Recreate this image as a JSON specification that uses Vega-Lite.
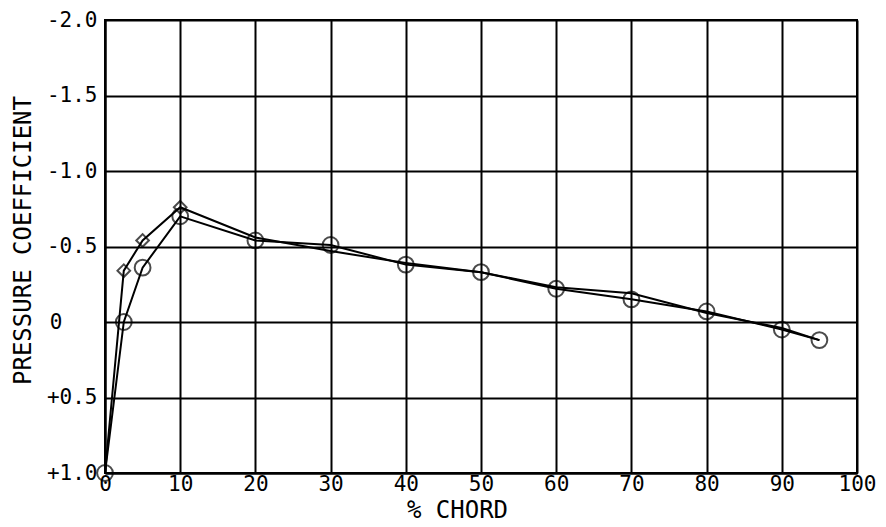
{
  "$schema": "https://vega.github.io/schema/vega-lite/v6.json",
  "width": 752,
  "height": 453,
  "autosize": "none",
  "padding": {"left": 105, "top": 20, "right": 29, "bottom": 54},
  "background": "white",
  "config": {
    "font": "DejaVu Sans Mono",
    "view": {"stroke": "black", "strokeWidth": 2},
    "axis": {
      "domainColor": "black", "domainWidth": 2,
      "gridColor": "black", "gridWidth": 2, "gridOpacity": 1,
      "ticks": false,
      "labelColor": "black", "labelFont": "DejaVu Sans Mono", "labelFontSize": 21,
      "titleColor": "black", "titleFont": "DejaVu Sans Mono", "titleFontSize": 24, "titleFontWeight": "normal"
    }
  },
  "data": {
    "values": [
      {"chord": 0, "cp": 1.0, "series": "A"},
      {"chord": 2.5, "cp": 0.0, "series": "A"},
      {"chord": 5, "cp": -0.36, "series": "A"},
      {"chord": 10, "cp": -0.70, "series": "A"},
      {"chord": 20, "cp": -0.54, "series": "A"},
      {"chord": 30, "cp": -0.51, "series": "A"},
      {"chord": 40, "cp": -0.38, "series": "A"},
      {"chord": 50, "cp": -0.33, "series": "A"},
      {"chord": 60, "cp": -0.22, "series": "A"},
      {"chord": 70, "cp": -0.15, "series": "A"},
      {"chord": 80, "cp": -0.07, "series": "A"},
      {"chord": 90, "cp": 0.05, "series": "A"},
      {"chord": 95, "cp": 0.12, "series": "A"},
      {"chord": 0, "cp": 1.0, "series": "B"},
      {"chord": 2.5, "cp": -0.34, "series": "B"},
      {"chord": 5, "cp": -0.54, "series": "B"},
      {"chord": 10, "cp": -0.76, "series": "B"},
      {"chord": 20, "cp": -0.56, "series": "B"},
      {"chord": 30, "cp": -0.47, "series": "B"},
      {"chord": 40, "cp": -0.39, "series": "B"},
      {"chord": 50, "cp": -0.33, "series": "B"},
      {"chord": 60, "cp": -0.23, "series": "B"},
      {"chord": 70, "cp": -0.19, "series": "B"},
      {"chord": 80, "cp": -0.06, "series": "B"},
      {"chord": 90, "cp": 0.04, "series": "B"},
      {"chord": 95, "cp": 0.12, "series": "B"}
    ]
  },
  "encoding": {
    "x": {
      "field": "chord", "type": "quantitative",
      "scale": {"domain": [0, 100], "nice": false, "zero": false},
      "axis": {"values": [0,10,20,30,40,50,60,70,80,90,100], "title": "% CHORD", "labelPadding": 0, "labelFlush": false,
        "titleX": 352, "titleY": 37, "titleBaseline": "middle", "titleAlign": "center"}
    },
    "y": {
      "field": "cp", "type": "quantitative",
      "scale": {"domain": [-2, 1], "nice": false, "zero": false, "reverse": true},
      "axis": {
        "values": [-2, -1.5, -1, -0.5, 0, 0.5, 1],
        "labelExpr": "datum.value < 0 ? '-' + format(-datum.value, '.1f') : (datum.value > 0 ? '+' + format(datum.value, '.1f') : '0')",
        "title": "PRESSURE COEFFICIENT",
        "labelPadding": {"condition": {"test": "datum.value == 0", "value": 43}, "value": 8},
        "labelFlush": false,
        "titleX": -82, "titleY": 220, "titleAngle": -90, "titleBaseline": "middle", "titleAlign": "center"
      }
    }
  },
  "layer": [
    {
      "mark": {"type": "line", "color": "black", "strokeWidth": 2},
      "encoding": {"detail": {"field": "series"}}
    },
    {
      "transform": [{"filter": "datum.series == 'A'"}],
      "mark": {"type": "point", "shape": "circle", "filled": false, "color": "black", "strokeWidth": 2, "size": 250}
    },
    {
      "transform": [{"filter": "datum.series == 'B' && datum.chord > 0 && datum.chord <= 10"}],
      "mark": {"type": "point", "shape": "diamond", "filled": false, "color": "black", "strokeWidth": 2, "size": 160}
    }
  ]
}
